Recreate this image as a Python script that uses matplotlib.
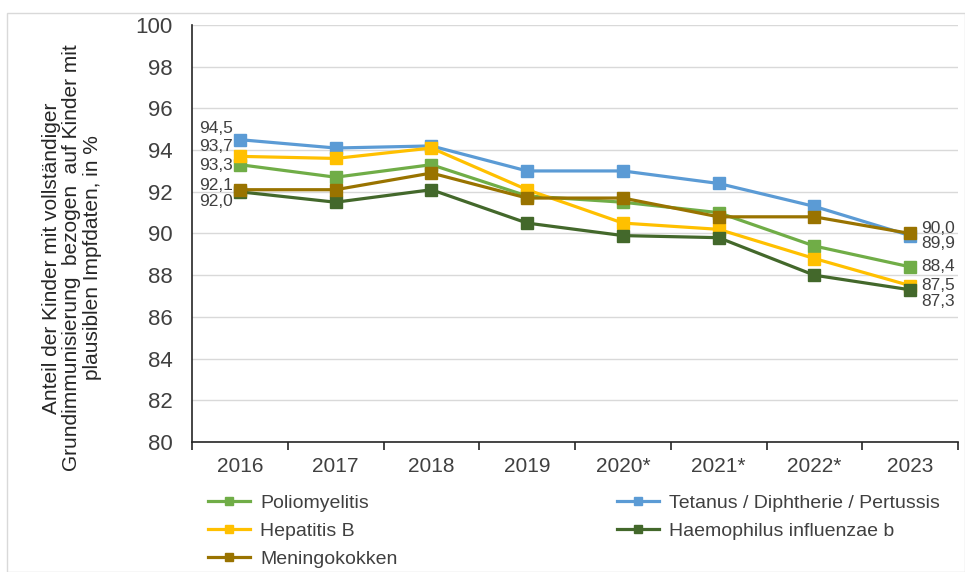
import matplotlib
matplotlib.use("Agg")
import matplotlib.pyplot as plt
from matplotlib.patches import Rectangle

# Data
years = ["2016", "2017", "2018", "2019", "2020*", "2021*", "2022*", "2023"]
tetanus = [94.5, 94.1, 94.2, 93.0, 93.0, 92.4, 91.3, 89.9]
polio = [93.3, 92.7, 93.3, 91.8, 91.5, 91.0, 89.4, 88.4]
hepb = [93.7, 93.6, 94.1, 92.1, 90.5, 90.2, 88.8, 87.5]
haemo = [92.0, 91.5, 92.1, 90.5, 89.9, 89.8, 88.0, 87.3]
mening = [92.1, 92.1, 92.9, 91.7, 91.7, 90.8, 90.8, 90.0]

names = ["Tetanus / Diphtherie / Pertussis", "Poliomyelitis", "Hepatitis B",
         "Haemophilus influenzae b", "Meningokokken"]
colors = ["#5B9BD5", "#70AD47", "#FFC000", "#43682B", "#997300"]
series = [tetanus, polio, hepb, haemo, mening]

# label offsets (pixels) for first / last point
first_off = [(-7, 11), (-7, -1), (-7, 10), (-7, -10), (-7, 4)]
last_off = [(11, -8), (11, 0), (11, 0), (11, -12), (11, 5)]

plt.rcParams["font.family"] = ["Liberation Sans", "DejaVu Sans"]
txt = "#404040"

fig = plt.figure(figsize=(9.65, 5.72), dpi=100)
fig.patches.append(Rectangle((7 / 965, 0), 958 / 965, 1 - 13 / 572, transform=fig.transFigure,
                             fill=False, edgecolor="#D9D9D9", linewidth=1))
ax = fig.add_axes([192 / 965, 1 - 442 / 572, 766 / 965, 417 / 572])

x = list(range(len(years)))
lines = {}
for name, col, vals in zip(names, colors, series):
    ln, = ax.plot(x, vals, color=col, lw=2.3, marker="s", markersize=8.5, label=name)
    lines[name] = ln

for vals, fo, lo in zip(series, first_off, last_off):
    ax.annotate(f"{vals[0]:.1f}".replace(".", ","), (x[0], vals[0]), xytext=fo,
                textcoords="offset pixels", ha="right", va="center", fontsize=12.5, color=txt)
    ax.annotate(f"{vals[-1]:.1f}".replace(".", ","), (x[-1], vals[-1]), xytext=lo,
                textcoords="offset pixels", ha="left", va="center", fontsize=12.5, color=txt)

ax.set_xlim(-0.5, len(years) - 0.5)
ax.set_ylim(80, 100)
ax.set_yticks(range(80, 101, 2))
ax.set_xticks(x)
ax.set_xticklabels(years)
ax.set_xticks([i - 0.5 for i in range(len(years) + 1)], minor=True)
ax.tick_params(axis="x", which="major", length=0, labelsize=15, labelcolor=txt, pad=11)
ax.tick_params(axis="x", which="minor", length=6, width=1.2, color="#262626", direction="out")
ax.tick_params(axis="y", length=0, labelsize=16, labelcolor=txt, pad=14)
ax.grid(axis="y", color="#D9D9D9", lw=1)
ax.set_axisbelow(True)
for s in ["top", "right"]:
    ax.spines[s].set_visible(False)
for s in ["left", "bottom"]:
    ax.spines[s].set_color("#262626")
    ax.spines[s].set_linewidth(1.2)

fig.text(72 / 965, 1 - 258 / 572,
         "Anteil der Kinder mit vollständiger\nGrundimmunisierung  bezogen  auf Kinder mit\nplausiblen Impfdaten, in %",
         rotation=90, ha="center", va="center", multialignment="center",
         fontsize=15, color="#262626", linespacing=1.12)

order = ["Poliomyelitis", "Hepatitis B", "Meningokokken",
         "Tetanus / Diphtherie / Pertussis", "Haemophilus influenzae b"]
fig.legend([lines[n] for n in order], order, ncol=2, loc="upper left",
           bbox_to_anchor=(208 / 965, 1 - 494 / 572), frameon=False, fontsize=14,
           borderpad=0, borderaxespad=0,
           handlelength=2.16, handletextpad=0.52, columnspacing=11.3,
           labelspacing=0.54, markerscale=0.7, labelcolor=txt)

fig.savefig("out.png", dpi=100)
